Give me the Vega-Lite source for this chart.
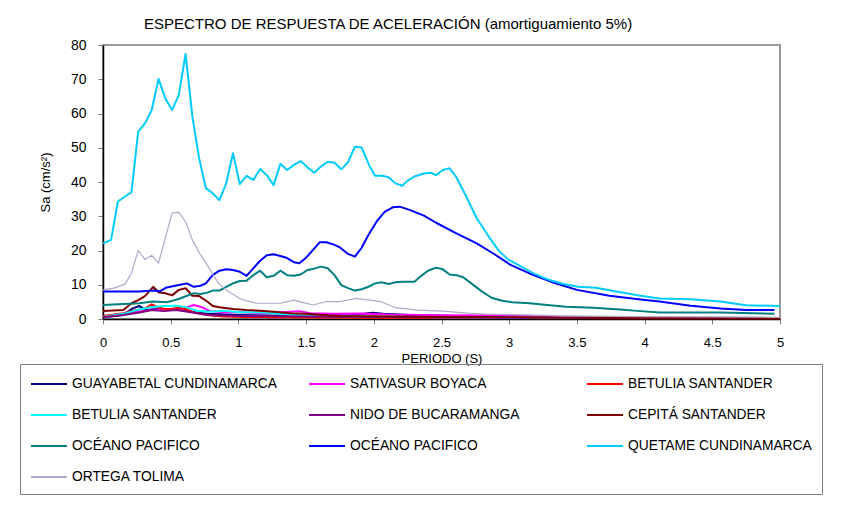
{
  "$schema": "https://vega.github.io/schema/vega-lite/v6.json",
  "width": 677,
  "height": 274,
  "autosize": {"type": "none"},
  "padding": {"left": 103, "top": 45, "right": 85, "bottom": 193},
  "background": "white",
  "title": {
    "text": "ESPECTRO DE RESPUESTA DE ACELERACIÓN  (amortiguamiento 5%)",
    "anchor": "start",
    "frame": "group",
    "dx": 41,
    "offset": 6,
    "font": "Liberation Sans",
    "fontSize": 15,
    "fontWeight": "normal",
    "color": "black"
  },
  "config": {
    "font": "Liberation Sans",
    "view": {"stroke": "#999999", "strokeWidth": 2},
    "axis": {"grid": false}
  },
  "data": {
    "values": [
      {"s":"a","t":0,"v":0.5},{"s":"a","t":0.15,"v":1.2},{"s":"a","t":0.22,"v":3.1},{"s":"a","t":0.27,"v":3.8},{"s":"a","t":0.31,"v":2.6},{"s":"a","t":0.4,"v":2.9},{"s":"a","t":0.55,"v":2.9},{"s":"a","t":0.65,"v":2.1},{"s":"a","t":0.77,"v":1.5},{"s":"a","t":1.01,"v":1.2},{"s":"a","t":1.26,"v":1.0},{"s":"a","t":1.63,"v":1.0},{"s":"a","t":1.85,"v":1.2},{"s":"a","t":1.99,"v":1.8},{"s":"a","t":2.07,"v":1.5},{"s":"a","t":2.3,"v":1.1},{"s":"a","t":2.6,"v":0.9},{"s":"a","t":3,"v":0.7},{"s":"a","t":3.5,"v":0.5},{"s":"a","t":4,"v":0.4},{"s":"a","t":4.5,"v":0.3},{"s":"a","t":5,"v":0.3},
      {"s":"b","t":0,"v":0.6},{"s":"b","t":0.15,"v":1.5},{"s":"b","t":0.35,"v":2.6},{"s":"b","t":0.47,"v":2.9},{"s":"b","t":0.56,"v":2.6},{"s":"b","t":0.67,"v":4.1},{"s":"b","t":0.72,"v":3.6},{"s":"b","t":0.79,"v":2.3},{"s":"b","t":0.89,"v":2.0},{"s":"b","t":1.01,"v":2.0},{"s":"b","t":1.16,"v":1.7},{"s":"b","t":1.38,"v":2.1},{"s":"b","t":1.45,"v":2.3},{"s":"b","t":1.53,"v":1.7},{"s":"b","t":1.7,"v":1.5},{"s":"b","t":1.9,"v":1.6},{"s":"b","t":2.1,"v":1.3},{"s":"b","t":2.5,"v":1.1},{"s":"b","t":2.86,"v":1.0},{"s":"b","t":3.2,"v":0.7},{"s":"b","t":3.5,"v":0.5},{"s":"b","t":4,"v":0.4},{"s":"b","t":4.5,"v":0.3},{"s":"b","t":5,"v":0.3},
      {"s":"c","t":0,"v":0.9},{"s":"c","t":0.15,"v":1.7},{"s":"c","t":0.25,"v":2.6},{"s":"c","t":0.31,"v":3.1},{"s":"c","t":0.36,"v":4.3},{"s":"c","t":0.41,"v":3.3},{"s":"c","t":0.46,"v":2.9},{"s":"c","t":0.51,"v":3.0},{"s":"c","t":0.56,"v":3.3},{"s":"c","t":0.61,"v":2.9},{"s":"c","t":0.67,"v":2.0},{"s":"c","t":0.77,"v":1.2},{"s":"c","t":0.89,"v":0.7},{"s":"c","t":1.2,"v":0.5},{"s":"c","t":2,"v":0.4},{"s":"c","t":3,"v":0.3},{"s":"c","t":4,"v":0.2},{"s":"c","t":5,"v":0.2},
      {"s":"d","t":0,"v":0.6},{"s":"d","t":0.15,"v":1.5},{"s":"d","t":0.25,"v":2.6},{"s":"d","t":0.35,"v":3.4},{"s":"d","t":0.45,"v":3.8},{"s":"d","t":0.54,"v":3.9},{"s":"d","t":0.62,"v":3.4},{"s":"d","t":0.69,"v":2.4},{"s":"d","t":0.79,"v":2.1},{"s":"d","t":0.89,"v":2.4},{"s":"d","t":1.01,"v":2.0},{"s":"d","t":1.13,"v":2.0},{"s":"d","t":1.23,"v":1.8},{"s":"d","t":1.38,"v":1.2},{"s":"d","t":1.63,"v":0.9},{"s":"d","t":2,"v":0.7},{"s":"d","t":2.5,"v":0.5},{"s":"d","t":3,"v":0.4},{"s":"d","t":4,"v":0.3},{"s":"d","t":5,"v":0.3},
      {"s":"e","t":0,"v":0.5},{"s":"e","t":0.15,"v":1.2},{"s":"e","t":0.27,"v":1.9},{"s":"e","t":0.36,"v":2.6},{"s":"e","t":0.45,"v":2.3},{"s":"e","t":0.54,"v":2.6},{"s":"e","t":0.65,"v":2.0},{"s":"e","t":0.77,"v":1.2},{"s":"e","t":1.01,"v":0.9},{"s":"e","t":1.5,"v":0.7},{"s":"e","t":2,"v":0.6},{"s":"e","t":3,"v":0.4},{"s":"e","t":4,"v":0.3},{"s":"e","t":5,"v":0.3},
      {"s":"f","t":0,"v":2.3},{"s":"f","t":0.15,"v":2.6},{"s":"f","t":0.21,"v":4.6},{"s":"f","t":0.26,"v":5.5},{"s":"f","t":0.31,"v":6.7},{"s":"f","t":0.37,"v":9.4},{"s":"f","t":0.41,"v":7.8},{"s":"f","t":0.46,"v":7.5},{"s":"f","t":0.51,"v":6.9},{"s":"f","t":0.56,"v":8.5},{"s":"f","t":0.61,"v":9.0},{"s":"f","t":0.66,"v":6.8},{"s":"f","t":0.71,"v":6.7},{"s":"f","t":0.77,"v":5.1},{"s":"f","t":0.81,"v":3.8},{"s":"f","t":0.86,"v":3.4},{"s":"f","t":0.96,"v":2.9},{"s":"f","t":1.06,"v":2.6},{"s":"f","t":1.16,"v":2.4},{"s":"f","t":1.26,"v":2.1},{"s":"f","t":1.38,"v":1.7},{"s":"f","t":1.5,"v":1.5},{"s":"f","t":1.63,"v":1.2},{"s":"f","t":1.75,"v":0.9},{"s":"f","t":2,"v":0.8},{"s":"f","t":2.5,"v":0.6},{"s":"f","t":3,"v":0.5},{"s":"f","t":3.5,"v":0.4},{"s":"f","t":4,"v":0.3},{"s":"f","t":4.5,"v":0.3},{"s":"f","t":5,"v":0.2},
      {"s":"g","t":0,"v":4.1},{"s":"g","t":0.27,"v":4.6},{"s":"g","t":0.37,"v":5.1},{"s":"g","t":0.47,"v":4.9},{"s":"g","t":0.52,"v":5.4},{"s":"g","t":0.57,"v":6.0},{"s":"g","t":0.62,"v":6.8},{"s":"g","t":0.67,"v":7.5},{"s":"g","t":0.72,"v":7.3},{"s":"g","t":0.77,"v":7.7},{"s":"g","t":0.81,"v":8.3},{"s":"g","t":0.86,"v":8.3},{"s":"g","t":0.91,"v":9.4},{"s":"g","t":0.96,"v":10.4},{"s":"g","t":1.01,"v":11.1},{"s":"g","t":1.06,"v":11.2},{"s":"g","t":1.11,"v":12.8},{"s":"g","t":1.16,"v":14.1},{"s":"g","t":1.21,"v":12.2},{"s":"g","t":1.26,"v":12.6},{"s":"g","t":1.31,"v":14.1},{"s":"g","t":1.36,"v":12.8},{"s":"g","t":1.41,"v":12.6},{"s":"g","t":1.46,"v":13.0},{"s":"g","t":1.51,"v":14.3},{"s":"g","t":1.56,"v":14.7},{"s":"g","t":1.61,"v":15.3},{"s":"g","t":1.66,"v":14.8},{"s":"g","t":1.71,"v":12.8},{"s":"g","t":1.76,"v":9.9},{"s":"g","t":1.81,"v":9.0},{"s":"g","t":1.86,"v":8.3},{"s":"g","t":1.91,"v":8.7},{"s":"g","t":1.96,"v":9.4},{"s":"g","t":2.01,"v":10.4},{"s":"g","t":2.06,"v":10.7},{"s":"g","t":2.11,"v":10.2},{"s":"g","t":2.16,"v":10.7},{"s":"g","t":2.21,"v":10.9},{"s":"g","t":2.3,"v":10.9},{"s":"g","t":2.35,"v":12.6},{"s":"g","t":2.4,"v":14.1},{"s":"g","t":2.46,"v":15.0},{"s":"g","t":2.51,"v":14.5},{"s":"g","t":2.56,"v":13.0},{"s":"g","t":2.61,"v":12.8},{"s":"g","t":2.66,"v":12.2},{"s":"g","t":2.72,"v":10.4},{"s":"g","t":2.8,"v":8.0},{"s":"g","t":2.87,"v":6.2},{"s":"g","t":2.94,"v":5.4},{"s":"g","t":3.02,"v":4.9},{"s":"g","t":3.15,"v":4.6},{"s":"g","t":3.28,"v":4.1},{"s":"g","t":3.42,"v":3.6},{"s":"g","t":3.62,"v":3.3},{"s":"g","t":3.82,"v":2.8},{"s":"g","t":3.97,"v":2.3},{"s":"g","t":4.11,"v":1.9},{"s":"g","t":4.56,"v":1.9},{"s":"g","t":4.96,"v":1.5},
      {"s":"h","t":0,"v":8.0},{"s":"h","t":0.27,"v":8.0},{"s":"h","t":0.37,"v":8.3},{"s":"h","t":0.42,"v":8.1},{"s":"h","t":0.47,"v":9.2},{"s":"h","t":0.56,"v":9.9},{"s":"h","t":0.62,"v":10.4},{"s":"h","t":0.67,"v":9.4},{"s":"h","t":0.72,"v":9.7},{"s":"h","t":0.76,"v":10.4},{"s":"h","t":0.81,"v":12.8},{"s":"h","t":0.86,"v":14.1},{"s":"h","t":0.91,"v":14.5},{"s":"h","t":0.96,"v":14.3},{"s":"h","t":1.01,"v":13.8},{"s":"h","t":1.06,"v":12.6},{"s":"h","t":1.11,"v":14.8},{"s":"h","t":1.16,"v":17.0},{"s":"h","t":1.21,"v":18.6},{"s":"h","t":1.26,"v":18.9},{"s":"h","t":1.31,"v":18.4},{"s":"h","t":1.36,"v":17.8},{"s":"h","t":1.41,"v":16.6},{"s":"h","t":1.45,"v":16.3},{"s":"h","t":1.5,"v":17.9},{"s":"h","t":1.55,"v":20.1},{"s":"h","t":1.6,"v":22.4},{"s":"h","t":1.65,"v":22.4},{"s":"h","t":1.7,"v":21.8},{"s":"h","t":1.75,"v":20.9},{"s":"h","t":1.81,"v":19.0},{"s":"h","t":1.86,"v":18.2},{"s":"h","t":1.91,"v":20.8},{"s":"h","t":1.96,"v":24.5},{"s":"h","t":2.02,"v":28.4},{"s":"h","t":2.08,"v":31.3},{"s":"h","t":2.14,"v":32.6},{"s":"h","t":2.19,"v":32.8},{"s":"h","t":2.27,"v":31.8},{"s":"h","t":2.37,"v":30.2},{"s":"h","t":2.46,"v":28.1},{"s":"h","t":2.61,"v":25.0},{"s":"h","t":2.76,"v":22.1},{"s":"h","t":2.88,"v":19.2},{"s":"h","t":3.01,"v":15.8},{"s":"h","t":3.15,"v":13.3},{"s":"h","t":3.33,"v":10.6},{"s":"h","t":3.5,"v":8.5},{"s":"h","t":3.74,"v":6.8},{"s":"h","t":3.97,"v":5.7},{"s":"h","t":4.11,"v":5.1},{"s":"h","t":4.34,"v":3.9},{"s":"h","t":4.56,"v":3.1},{"s":"h","t":4.75,"v":2.6},{"s":"h","t":4.96,"v":2.6},
      {"s":"i","t":0,"v":22.1},{"s":"i","t":0.06,"v":23.1},{"s":"i","t":0.11,"v":34.3},{"s":"i","t":0.16,"v":35.7},{"s":"i","t":0.21,"v":37.0},{"s":"i","t":0.26,"v":54.7},{"s":"i","t":0.31,"v":57.1},{"s":"i","t":0.36,"v":61.0},{"s":"i","t":0.41,"v":70.1},{"s":"i","t":0.46,"v":64.4},{"s":"i","t":0.51,"v":61.0},{"s":"i","t":0.56,"v":65.4},{"s":"i","t":0.61,"v":77.4},{"s":"i","t":0.66,"v":59.1},{"s":"i","t":0.71,"v":46.9},{"s":"i","t":0.76,"v":38.2},{"s":"i","t":0.81,"v":36.7},{"s":"i","t":0.86,"v":34.7},{"s":"i","t":0.91,"v":39.6},{"s":"i","t":0.96,"v":48.4},{"s":"i","t":1.01,"v":39.4},{"s":"i","t":1.06,"v":41.8},{"s":"i","t":1.11,"v":40.6},{"s":"i","t":1.16,"v":43.8},{"s":"i","t":1.21,"v":42.0},{"s":"i","t":1.26,"v":39.1},{"s":"i","t":1.31,"v":45.3},{"s":"i","t":1.36,"v":43.5},{"s":"i","t":1.41,"v":45.0},{"s":"i","t":1.46,"v":46.1},{"s":"i","t":1.51,"v":44.3},{"s":"i","t":1.56,"v":42.7},{"s":"i","t":1.61,"v":44.5},{"s":"i","t":1.66,"v":45.9},{"s":"i","t":1.71,"v":45.6},{"s":"i","t":1.76,"v":43.7},{"s":"i","t":1.81,"v":45.8},{"s":"i","t":1.86,"v":50.3},{"s":"i","t":1.91,"v":50.1},{"s":"i","t":1.97,"v":44.5},{"s":"i","t":2.01,"v":41.8},{"s":"i","t":2.06,"v":41.8},{"s":"i","t":2.11,"v":41.4},{"s":"i","t":2.16,"v":39.6},{"s":"i","t":2.21,"v":38.9},{"s":"i","t":2.25,"v":40.4},{"s":"i","t":2.3,"v":41.6},{"s":"i","t":2.37,"v":42.5},{"s":"i","t":2.42,"v":42.7},{"s":"i","t":2.46,"v":42.0},{"s":"i","t":2.51,"v":43.5},{"s":"i","t":2.56,"v":44.0},{"s":"i","t":2.61,"v":41.4},{"s":"i","t":2.68,"v":36.0},{"s":"i","t":2.76,"v":29.4},{"s":"i","t":2.85,"v":24.0},{"s":"i","t":2.92,"v":20.1},{"s":"i","t":2.99,"v":17.4},{"s":"i","t":3.08,"v":15.5},{"s":"i","t":3.18,"v":13.3},{"s":"i","t":3.28,"v":11.6},{"s":"i","t":3.4,"v":10.2},{"s":"i","t":3.51,"v":9.4},{"s":"i","t":3.64,"v":9.1},{"s":"i","t":3.77,"v":8.2},{"s":"i","t":3.97,"v":6.8},{"s":"i","t":4.11,"v":6.0},{"s":"i","t":4.34,"v":5.8},{"s":"i","t":4.56,"v":5.1},{"s":"i","t":4.75,"v":4.0},{"s":"i","t":5,"v":3.8},
      {"s":"j","t":0,"v":8.5},{"s":"j","t":0.08,"v":9.0},{"s":"j","t":0.16,"v":10.1},{"s":"j","t":0.21,"v":13.3},{"s":"j","t":0.26,"v":20.0},{"s":"j","t":0.31,"v":17.4},{"s":"j","t":0.36,"v":18.6},{"s":"j","t":0.41,"v":16.3},{"s":"j","t":0.46,"v":23.6},{"s":"j","t":0.51,"v":30.9},{"s":"j","t":0.56,"v":31.2},{"s":"j","t":0.61,"v":28.4},{"s":"j","t":0.66,"v":23.1},{"s":"j","t":0.72,"v":18.7},{"s":"j","t":0.77,"v":15.8},{"s":"j","t":0.81,"v":13.0},{"s":"j","t":0.86,"v":10.1},{"s":"j","t":0.91,"v":8.5},{"s":"j","t":0.96,"v":7.2},{"s":"j","t":1.01,"v":6.0},{"s":"j","t":1.06,"v":5.3},{"s":"j","t":1.13,"v":4.6},{"s":"j","t":1.21,"v":4.6},{"s":"j","t":1.31,"v":4.6},{"s":"j","t":1.41,"v":5.5},{"s":"j","t":1.48,"v":4.8},{"s":"j","t":1.55,"v":4.1},{"s":"j","t":1.65,"v":5.1},{"s":"j","t":1.75,"v":5.1},{"s":"j","t":1.87,"v":6.0},{"s":"j","t":1.97,"v":5.5},{"s":"j","t":2.05,"v":5.1},{"s":"j","t":2.16,"v":3.3},{"s":"j","t":2.32,"v":2.6},{"s":"j","t":2.51,"v":2.3},{"s":"j","t":2.69,"v":1.7},{"s":"j","t":2.83,"v":1.4},{"s":"j","t":3.13,"v":1.2},{"s":"j","t":3.38,"v":0.9},{"s":"j","t":3.97,"v":0.7},{"s":"j","t":4.5,"v":0.6},{"s":"j","t":5,"v":0.5}
    ]
  },
  "mark": {"type": "line", "strokeJoin": "round"},
  "encoding": {
    "x": {
      "field": "t",
      "type": "quantitative",
      "scale": {"domain": [0, 5], "nice": false},
      "axis": {
        "title": "PERIODO (S)",
        "titleFont": "Liberation Sans",
        "titleFontSize": 13,
        "titleFontWeight": "normal",
        "titleColor": "black",
        "titleY": 33,
        "titleBaseline": "top",
        "values": [0, 0.5, 1, 1.5, 2, 2.5, 3, 3.5, 4, 4.5, 5],
        "labelExpr": "datum.value",
        "labelFontSize": 13,
        "labelColor": "black",
        "labelPadding": 12,
        "labelFlush": false,
        "tickColor": "#808080",
        "tickSize": 5,
        "domainColor": "black",
        "domainWidth": 1.5
      }
    },
    "y": {
      "field": "v",
      "type": "quantitative",
      "scale": {"domain": [0, 80], "nice": false},
      "axis": {
        "title": "Sa (cm/s²)",
        "titleFont": "Liberation Sans",
        "titleFontSize": 13,
        "titleFontWeight": "normal",
        "titleColor": "black",
        "titleX": -58,
        "titleY": 137,
        "titleAlign": "center",
        "titleBaseline": "middle",
        "values": [0, 10, 20, 30, 40, 50, 60, 70, 80],
        "labelFontSize": 14,
        "labelColor": "black",
        "labelPadding": 12,
        "tickColor": "#808080",
        "tickSize": 5,
        "domainColor": "black",
        "domainWidth": 1.5
      }
    },
    "color": {
      "field": "s",
      "type": "nominal",
      "scale": {
        "domain": ["a","b","c","d","e","f","g","h","i","j"],
        "range": ["#000080","#FF00FF","#FF0000","#00FFFF","#800080","#800000","#008080","#0000FF","#00CCFF","#B0A8CC"]
      },
      "legend": {
        "title": null,
        "orient": "none",
        "legendX": -83,
        "legendY": 319,
        "columns": 3,
        "direction": "horizontal",
        "gridAlign": "all",
        "symbolType": "M-1,0H3",
        "symbolSize": 324,
        "symbolStrokeWidth": 2,
        "labelFont": "Liberation Sans",
        "labelFontSize": 13.8,
        "labelColor": "black",
        "labelOffset": 22,
        "labelLimit": 400,
        "columnPadding": 27,
        "rowPadding": 14,
        "padding": 10,
        "strokeColor": "#808080",
        "labelExpr": "{'a':'GUAYABETAL CUNDINAMARCA','b':'SATIVASUR BOYACA','c':'BETULIA SANTANDER','d':'BETULIA SANTANDER','e':'NIDO DE BUCARAMANGA','f':'CEPITÁ SANTANDER','g':'OCÉANO PACIFICO','h':'OCÉANO PACIFICO','i':'QUETAME CUNDINAMARCA','j':'ORTEGA TOLIMA'}[datum.label]"
      }
    },
    "strokeWidth": {
      "condition": {"test": "datum.s == 'j'", "value": 1.2},
      "value": 2
    }
  }
}
